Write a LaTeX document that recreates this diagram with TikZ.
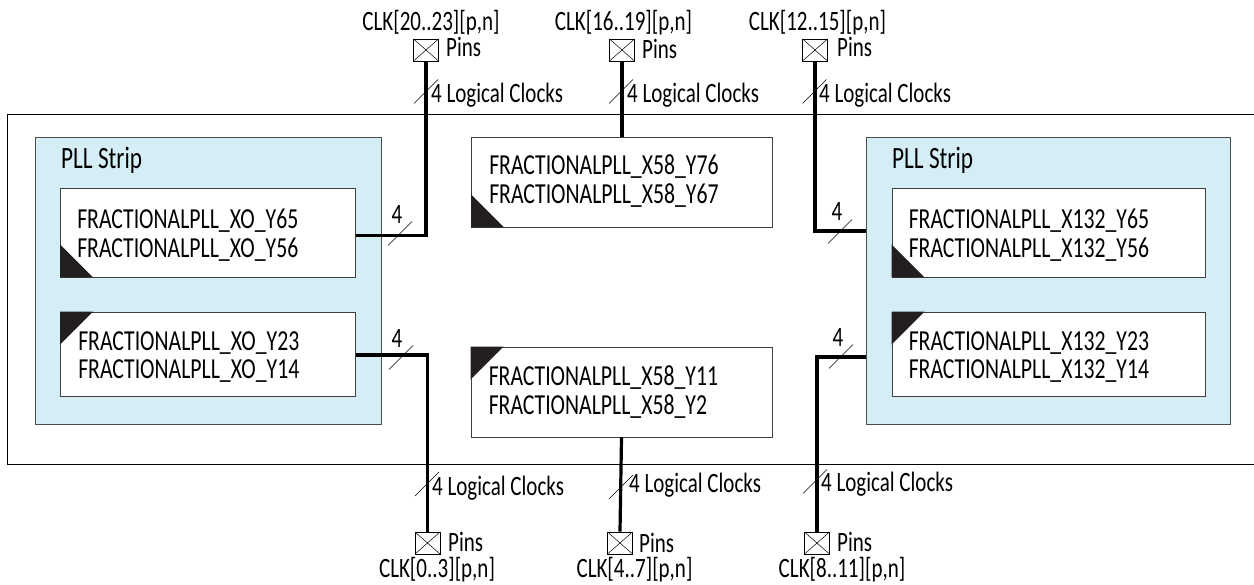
\documentclass[tikz,border=0pt]{standalone}
\usepackage{fontspec}
\setmainfont[FakeStretch=0.75]{Carlito}
\definecolor{stripblue}{HTML}{D5EEF5}
\definecolor{cornerblack}{HTML}{231F20}
\tikzset{
    pllstrip/.style={draw=black!70,fill=stripblue,line width=0.9pt,minimum width=346pt,minimum height=287pt,inner sep=0pt},
    pllbox/.style={draw=black!75,fill=white,line width=0.9pt,minimum height=89pt,inner sep=0pt},
    plltext/.style={anchor=west,inner sep=0pt,font=\fontsize{29}{28.5}\selectfont,align=left},
    pinbox/.style={draw=black,fill=white,line width=0.8pt,minimum width=25pt,minimum height=22pt,inner sep=0pt,
        path picture={\draw[line width=0.5pt] (path picture bounding box.north west) -- (path picture bounding box.south east)
            (path picture bounding box.north east) -- (path picture bounding box.south west);}},
    lbl/.style={inner sep=0pt,font=\fontsize{28}{28}\selectfont},
    striplbl/.style={anchor=west,inner sep=0pt,font=\fontsize{31}{31}\selectfont},
    wire/.style={line width=3.2pt,line join=miter},
    slashmark/.style={line width=0.6pt}
}
\begin{document}
\begin{tikzpicture}[x=1pt,y=-1pt]
    \useasboundingbox (0,0) rectangle (1254,585);

    % Outer frame
    \draw[black,line width=0.8pt] (1254,114) -- (7.5,114) -- (7.5,464) -- (1254,464);

    % PLL strips
    \node[pllstrip] (stripl) at (208,280.5) {};
    \node[pllstrip,minimum width=364pt] (stripr) at (1048.7,280.5) {};
    \node[striplbl] (titlel) at (61,160) {PLL Strip};
    \node[striplbl] (titler) at (892,160) {PLL Strip};

    % PLL blocks
    \node[pllbox,minimum width=295pt] (pllul) at (208,232.5) {};
    \node[pllbox,minimum width=295pt,minimum height=84pt] (pllll) at (208,354) {};
    \node[pllbox,minimum width=301pt,minimum height=90pt] (pllct) at (622,182) {};
    \node[pllbox,minimum width=301pt,minimum height=90pt] (pllcb) at (621.5,392) {};
    \node[pllbox,minimum width=313pt] (pllur) at (1048.5,232.5) {};
    \node[pllbox,minimum width=313pt,minimum height=84pt] (plllr) at (1048.5,354) {};

    % Black corners
    \foreach \n in {pllul,pllct,pllur} \fill[cornerblack] (\n.south west) -- ++(0,-33) -- ++(33,33) -- cycle;
    \foreach \n in {pllll,pllcb,plllr} \fill[cornerblack] (\n.north west) -- ++(0,33) -- ++(33,-33) -- cycle;

    % Block names
    \node[plltext] (nameul) at ([xshift=17pt,yshift=-2.5pt]pllul.west) {FRACTIONALPLL\_XO\_Y65\\FRACTIONALPLL\_XO\_Y56};
    \node[plltext] (namell) at ([xshift=18pt,yshift=-3pt]pllll.west) {FRACTIONALPLL\_XO\_Y23\\FRACTIONALPLL\_XO\_Y14};
    \node[plltext] (namect) at ([xshift=18pt,yshift=1pt]pllct.west) {FRACTIONALPLL\_X58\_Y76\\FRACTIONALPLL\_X58\_Y67};
    \node[plltext] (namecb) at ([xshift=18pt]pllcb.west) {FRACTIONALPLL\_X58\_Y11\\FRACTIONALPLL\_X58\_Y2};
    \node[plltext] (nameur) at ([xshift=17pt,yshift=-2.5pt]pllur.west) {FRACTIONALPLL\_X132\_Y65\\FRACTIONALPLL\_X132\_Y56};
    \node[plltext] (namelr) at ([xshift=17pt,yshift=-3pt]plllr.west) {FRACTIONALPLL\_X132\_Y23\\FRACTIONALPLL\_X132\_Y14};

    % Pins
    \node[pinbox] (pinul) at (426,50) {};
    \node[pinbox] (pinct) at (622,50) {};
    \node[pinbox] (pinur) at (815,50) {};
    \node[pinbox] (pinll) at (427.5,543) {};
    \node[pinbox] (pincb) at (620,543) {};
    \node[pinbox] (pinlr) at (817,543) {};

    % Wires
    \draw[wire] ([yshift=-3pt]pllul.east) -| (pinul.south);
    \draw[wire] (pinct.south) -- (pllct.north);
    \draw[wire] (pinur.south) |- ([yshift=1.5pt]pllur.west -| stripr.west);
    \draw[wire] ([yshift=-1pt]pllll.east) -| (pinll.north);
    \draw[wire] (pllcb.south) -- (pincb.north);
    \draw[wire] (pinlr.north) |- ([yshift=-3pt]plllr.west -| stripr.west);

    % Bus slashes
    \foreach \x/\y in {426/91.5,621/91.5,814.5/91.5,400/233.5,840/231.5,401/357.5,841/356.5,427/484,621/487,815/481.5}
        \draw[slashmark] (\x-12,\y+12) -- (\x+12,\y-12);

    % Pin labels
    \node[lbl] (clkul) at (431,23) {CLK[20..23][p,n]};
    \node[lbl] (clkct) at (623.5,23) {CLK[16..19][p,n]};
    \node[lbl] (clkur) at (817.5,23) {CLK[12..15][p,n]};
    \node[lbl] (clkll) at (437,570) {CLK[0..3][p,n]};
    \node[lbl] (clkcb) at (634.5,570) {CLK[4..7][p,n]};
    \node[lbl] (clklr) at (842,570) {CLK[8..11][p,n]};
    \foreach \x/\y in {446/47,642/49,837/47,448/542,639/543,837/542}
        \node[lbl,anchor=west] at (\x,\y) {Pins};

    % Bus labels
    \foreach \x/\y in {431/95,627/95,819/95,432/488,629/485,821/484}
        \node[lbl,anchor=west] at (\x,\y) {4 Logical Clocks};
    \foreach \x/\y in {397/215,837/212,397/339,838/338}
        \node[lbl] at (\x,\y) {4};
\end{tikzpicture}
\end{document}
